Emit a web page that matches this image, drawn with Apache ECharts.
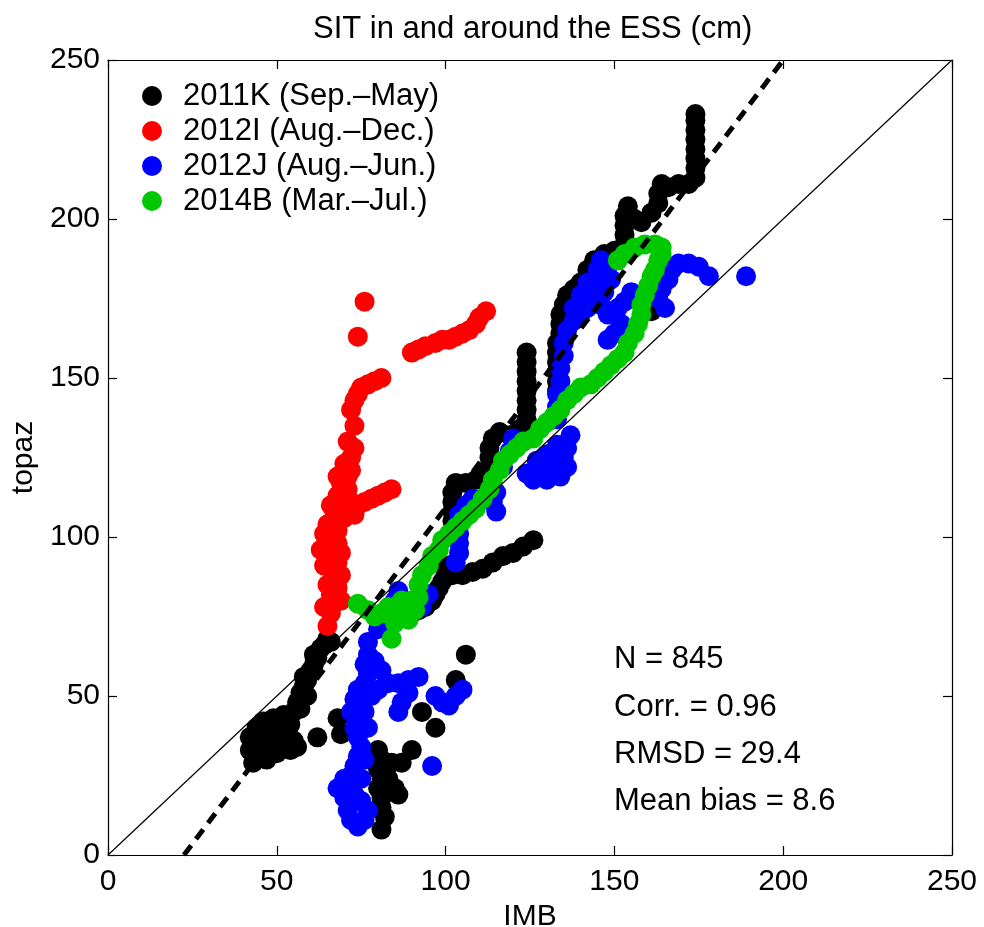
<!DOCTYPE html>
<html>
<head>
<meta charset="utf-8">
<script src="https://cdn.jsdelivr.net/npm/echarts@6/dist/echarts.min.js"></script>
<style>
html,body{margin:0;padding:0;background:#fff;}
#chart{width:984px;height:927px;}
</style>
</head>
<body>
<div id="chart"></div>
<script>
// ---- data ----
const AXIS_MIN = 0, AXIS_MAX = 250, AXIS_STEP = 50;
const seriesNames = ['2011K (Sep.\u2013May)', '2012I (Aug.\u2013Dec.)', '2012J (Aug.\u2013Jun.)', '2014B (Mar.\u2013Jul.)'];
const seriesColors = ['#000000', '#ff0000', '#0000ff', '#00c800'];
const statsLines = ['N = 845', 'Corr. = 0.96', 'RMSD = 29.4', 'Mean bias = 8.6'];

const black2011K = [
 [42,33],[42,37],[43,29],[44,35],[44,40],[45,32],[46,37],[46,42],[47,30],[48,34],[48,39],[49,43],[50,32],[50,36],[51,40],[52,34],[52,44],[53,38],[54,33],[54,41],[55,36],[56,34],[44,31],[47,33],[49,37],[51,35],
 [55,45],[56,48],[57,51],[58,53],[58,56],[59,55],[60,58],[61,60],[61,63],[62,62],[63,65],[64,66],[65,68],[66,67],[57,46],[59,50],
 [62,37],[68,43],[69,38],
 [80,33],[81,30],[80,27],[81,24],[80,21],[81,18],[81,15],[82,12],[81,8],[83,24],[84,29],[85,21],[86,19],[87,29],[90,33],[93,45],[97,40],[103,55],[106,63],
 [90,76],[92,77],[94,78],[96,80],[97,82],[98,84],[99,86],[100,88],[100,91],[102,88],[105,88],[108,89],[111,90],[114,92],[117,94],[120,95],[123,97],[126,99],
 [102,105],[102,108],[102,111],[102,114],[103,117],[106,117],[109,118],[112,120],
 [113,122],[113,125],[113,128],[114,131],[116,133],[119,132],
 [122,134],[124,137],[124,140],[124,143],[124,146],[124,149],[124,152],[124,155],[124,158],
 [133,146],[133,149],[133,152],[133,155],[133,158],[133,161],[134,164],[134,167],[134,170],[135,173],[136,176],[138,178],[140,180],[142,184],[144,187],[147,189],[150,190],
 [153,192],[153,195],[153,198],[153,201],[154,204],[156,200],[158,199],
 [161,202],[163,205],[163,208],[164,211],[166,210],[169,211],
 [172,211],[174,213],[174,216],[174,219],[174,222],[174,225],[174,228],[174,231],[174,233],
 [161,171]
];
const red2012I = [
 [65,72],
 [66,76],[67,79],[66,82],[68,84],[67,87],[66,90],[68,92],[67,95],[65,97],[68,98],[66,100],[68,102],[67,105],[70,106],[67,108],[69,110],[72,111],[68,113],[71,115],
 [64,78],[65,85],[64,91],[63,96],[64,101],[69,80],[69,88],[69,95],[65,104],[66,110],
 [74,110],[76,111],[78,112],[80,113],[82,114],[84,115],[73,107],
 [69,117],[71,119],[72,121],[70,123],[72,125],[73,128],[71,130],[73,135],[68,119],
 [72,140],[73,143],[74,145],[75,147],[77,148],[79,149],[81,150],
 [74,163],[76,174],
 [90,158],[92,159],[94,160],[97,161],[99,162],[101,162],[103,163],[105,164],[107,165],[109,167],[110,169],[112,171]
];
const blue2012J = [
 [68,21],[70,18],[71,14],[72,11],[74,9],[76,11],[77,14],[75,17],[73,19],[72,22],[72,25],[73,28],[74,31],[76,30],[75,34],[74,37],[73,40],[74,43],[75,46],[73,49],[74,52],[76,54],[77,57],[76,60],[77,63],[77,67],[79,61],[81,58],[78,50],
 [70,24],[75,24],[77,40],[76,45],[72,45],
 [80,52],[83,54],[86,54],[89,55],[92,56],[89,51],[87,48],[86,45],[96,28],[97,50],[99,48],[101,47],[103,50],[105,52],
 [80,71],[82,73],[83,77],[85,80],[86,83],[93,78],[95,82],
 [103,92],[104,95],[104,98],[104,101],[104,104],[104,107],[106,110],[108,112],[111,112],[114,111],[115,108],[115,114],
 [117,122],[119,127],[120,131],[123,130],
 [124,120],[126,118],[128,121],[130,118],[132,121],[134,119],[136,122],[135,125],[136,128],[137,132],[133,129],[130,126],[127,124],
 [133,137],[133,141],[133,145],[134,149],[134,153],[135,157],[135,161],
 [136,165],[138,168],[140,170],[142,172],[143,176],[144,180],[145,184],[146,187],[148,185],[149,181],[147,177],[146,173],[148,170],[151,172],[153,174],[155,177],[152,167],[150,164],[148,162],
 [138,172],[140,176],[142,180],
 [163,175],[164,178],[165,172],[166,181],[167,184],[169,186],[172,186],[175,185],[178,182],[189,182]
];
const green2014B = [
 [74,79],[77,77],[79,75],[81,76],[83,78],[84,68],[85,73],[86,76],[88,78],[90,80],[92,81],[89,74],[91,77],[87,80],
 [92,85],[93,88],[95,91],[96,94],[98,96],
 [99,99],[101,101],[103,103],[105,105],[107,107],[109,109],[111,112],[113,115],[114,118],[116,121],[117,124],[119,126],[121,128],[123,130],[126,131],[128,134],[130,136],[132,138],[134,140],[136,143],[138,145],[140,147],[143,148],[145,150],[147,152],[149,154],[151,156],[153,158],[154,161],[156,164],[157,167],[158,170],[158,173],[159,176],[160,179],[161,182],[162,184],[163,187],[164,189],[164,191],[162,192],[159,192],[156,191],[153,189],[151,187]
];
const oneToOneLine = [[0,0],[250,250]];
const fitLine = [[22.5,0],[200,250]];

// ---- chart ----
const FONT = "'Liberation Sans', Arial, Helvetica, sans-serif";
const chart = echarts.init(document.getElementById('chart'), null, {renderer:'canvas'});

function mkAxis(pos, showLabel, name) {
  return {
    type: 'value', position: pos, min: AXIS_MIN, max: AXIS_MAX, interval: AXIS_STEP,
    name: name || '', nameLocation: 'middle',
    nameTextStyle: {fontFamily: FONT, fontSize: 30, color: '#000'},
    axisLine: {show: true, onZero: false, lineStyle: {color: '#000', width: 1.2}},
    axisTick: {show: true, inside: true, length: 9, lineStyle: {color: '#000', width: 1.2}},
    axisLabel: {show: showLabel, fontFamily: FONT, fontSize: 30, color: '#000', margin: pos === 'bottom' ? 12 : 8},
    splitLine: {show: false}
  };
}
const xBottom = mkAxis('bottom', true, 'IMB'); xBottom.nameGap = 42;
const xTop = mkAxis('top', false);
const yLeft = mkAxis('left', true, 'topaz'); yLeft.nameGap = 57;
const yRight = mkAxis('right', false);

const pointSets = [black2011K, red2012I, blue2012J, green2014B];
const scatterSeries = pointSets.map((d, i) => ({
  name: seriesNames[i], type: 'scatter', data: d, symbol: 'circle', symbolSize: 20,
  itemStyle: {color: seriesColors[i], opacity: 1}, xAxisIndex: 0, yAxisIndex: 0, z: 2 + i
}));

const option = {
  animation: false,
  backgroundColor: '#fff',
  title: {text: 'SIT in and around the ESS (cm)', left: 308, top: 9,
    textStyle: {fontFamily: FONT, fontSize: 31, fontWeight: 'normal', color: '#000'}},
  grid: {left: 108, right: 32, top: 60, bottom: 72, containLabel: false, outerBoundsMode: 'none'},
  xAxis: [xBottom, xTop],
  yAxis: [yLeft, yRight],
  legend: {data: seriesNames, orient: 'vertical', left: 137, top: 75, itemWidth: 52, itemHeight: 20, itemGap: 3,
    icon: 'circle', textStyle: {fontFamily: FONT, fontSize: 31, color: '#000', lineHeight: 32}},
  series: scatterSeries.concat([
    {type: 'line', data: oneToOneLine, symbol: 'none', silent: true, z: 10,
     lineStyle: {color: '#000', width: 1.2}},
    {type: 'line', data: fitLine, symbol: 'none', silent: true, z: 10,
     lineStyle: {color: '#000', width: 5, type: [12, 8]}}
  ]),
  graphic: statsLines.map((t, i) => ({
    type: 'text', left: 614, top: [661, 709, 756, 803][i] - 17,
    style: {text: t, fontFamily: FONT, fontSize: 31, fill: '#000'}
  }))
};
chart.setOption(option);
</script>
</body>
</html>
